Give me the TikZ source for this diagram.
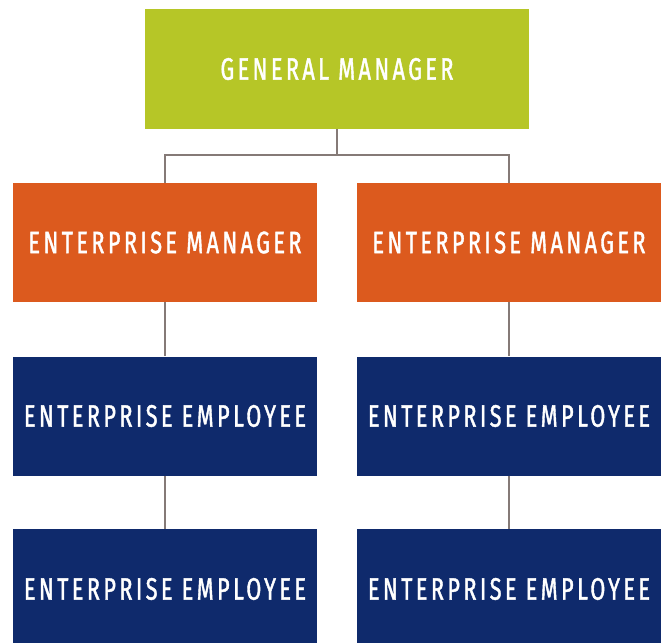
\documentclass[tikz,border=0pt]{standalone}
\usepackage{fontspec}
\setmainfont{Fira Sans}[FakeStretch=0.70, LetterSpace=11]
\definecolor{gmgreen}{HTML}{B6C627}
\definecolor{emorange}{HTML}{DC5A1E}
\definecolor{eenavy}{HTML}{0F2A6C}
\definecolor{linkgray}{HTML}{857A77}
\begin{document}
\begin{tikzpicture}[x=1pt,y=-1pt,
  box/.style={rectangle, inner sep=0pt, minimum width=304pt, minimum height=119pt,
    text=white, font=\fontsize{31}{33}\selectfont\addfontfeature{FakeBold=1.3}},
  link/.style={draw=linkgray, line width=2.5pt}]
\useasboundingbox (0,0) rectangle (662,643);
\node[box, fill=gmgreen, minimum width=384pt, minimum height=120pt] (gm) at (337,69) {GENERAL MANAGER};
\node[box, fill=emorange] (m1) at (165,242.5) {ENTERPRISE MANAGER};
\node[box, fill=emorange] (m2) at (509,242.5) {ENTERPRISE MANAGER};
\node[box, fill=eenavy] (e1) at (165,416) {ENTERPRISE EMPLOYEE};
\node[box, fill=eenavy] (e2) at (509,416) {ENTERPRISE EMPLOYEE};
\node[box, fill=eenavy, minimum height=120pt] (f1) at (165,589) {ENTERPRISE EMPLOYEE};
\node[box, fill=eenavy, minimum height=120pt] (f2) at (509,589) {ENTERPRISE EMPLOYEE};
\coordinate (mid) at (337,155);
\draw[link] (gm.south) -- (mid);
\draw[link] (m1.north) |- (mid) -| (m2.north);
\draw[link] (m1.south) -- (e1.north);
\draw[link] (m2.south) -- (e2.north);
\draw[link] (e1.south) -- (f1.north);
\draw[link] (e2.south) -- (f2.north);
\end{tikzpicture}
\end{document}
